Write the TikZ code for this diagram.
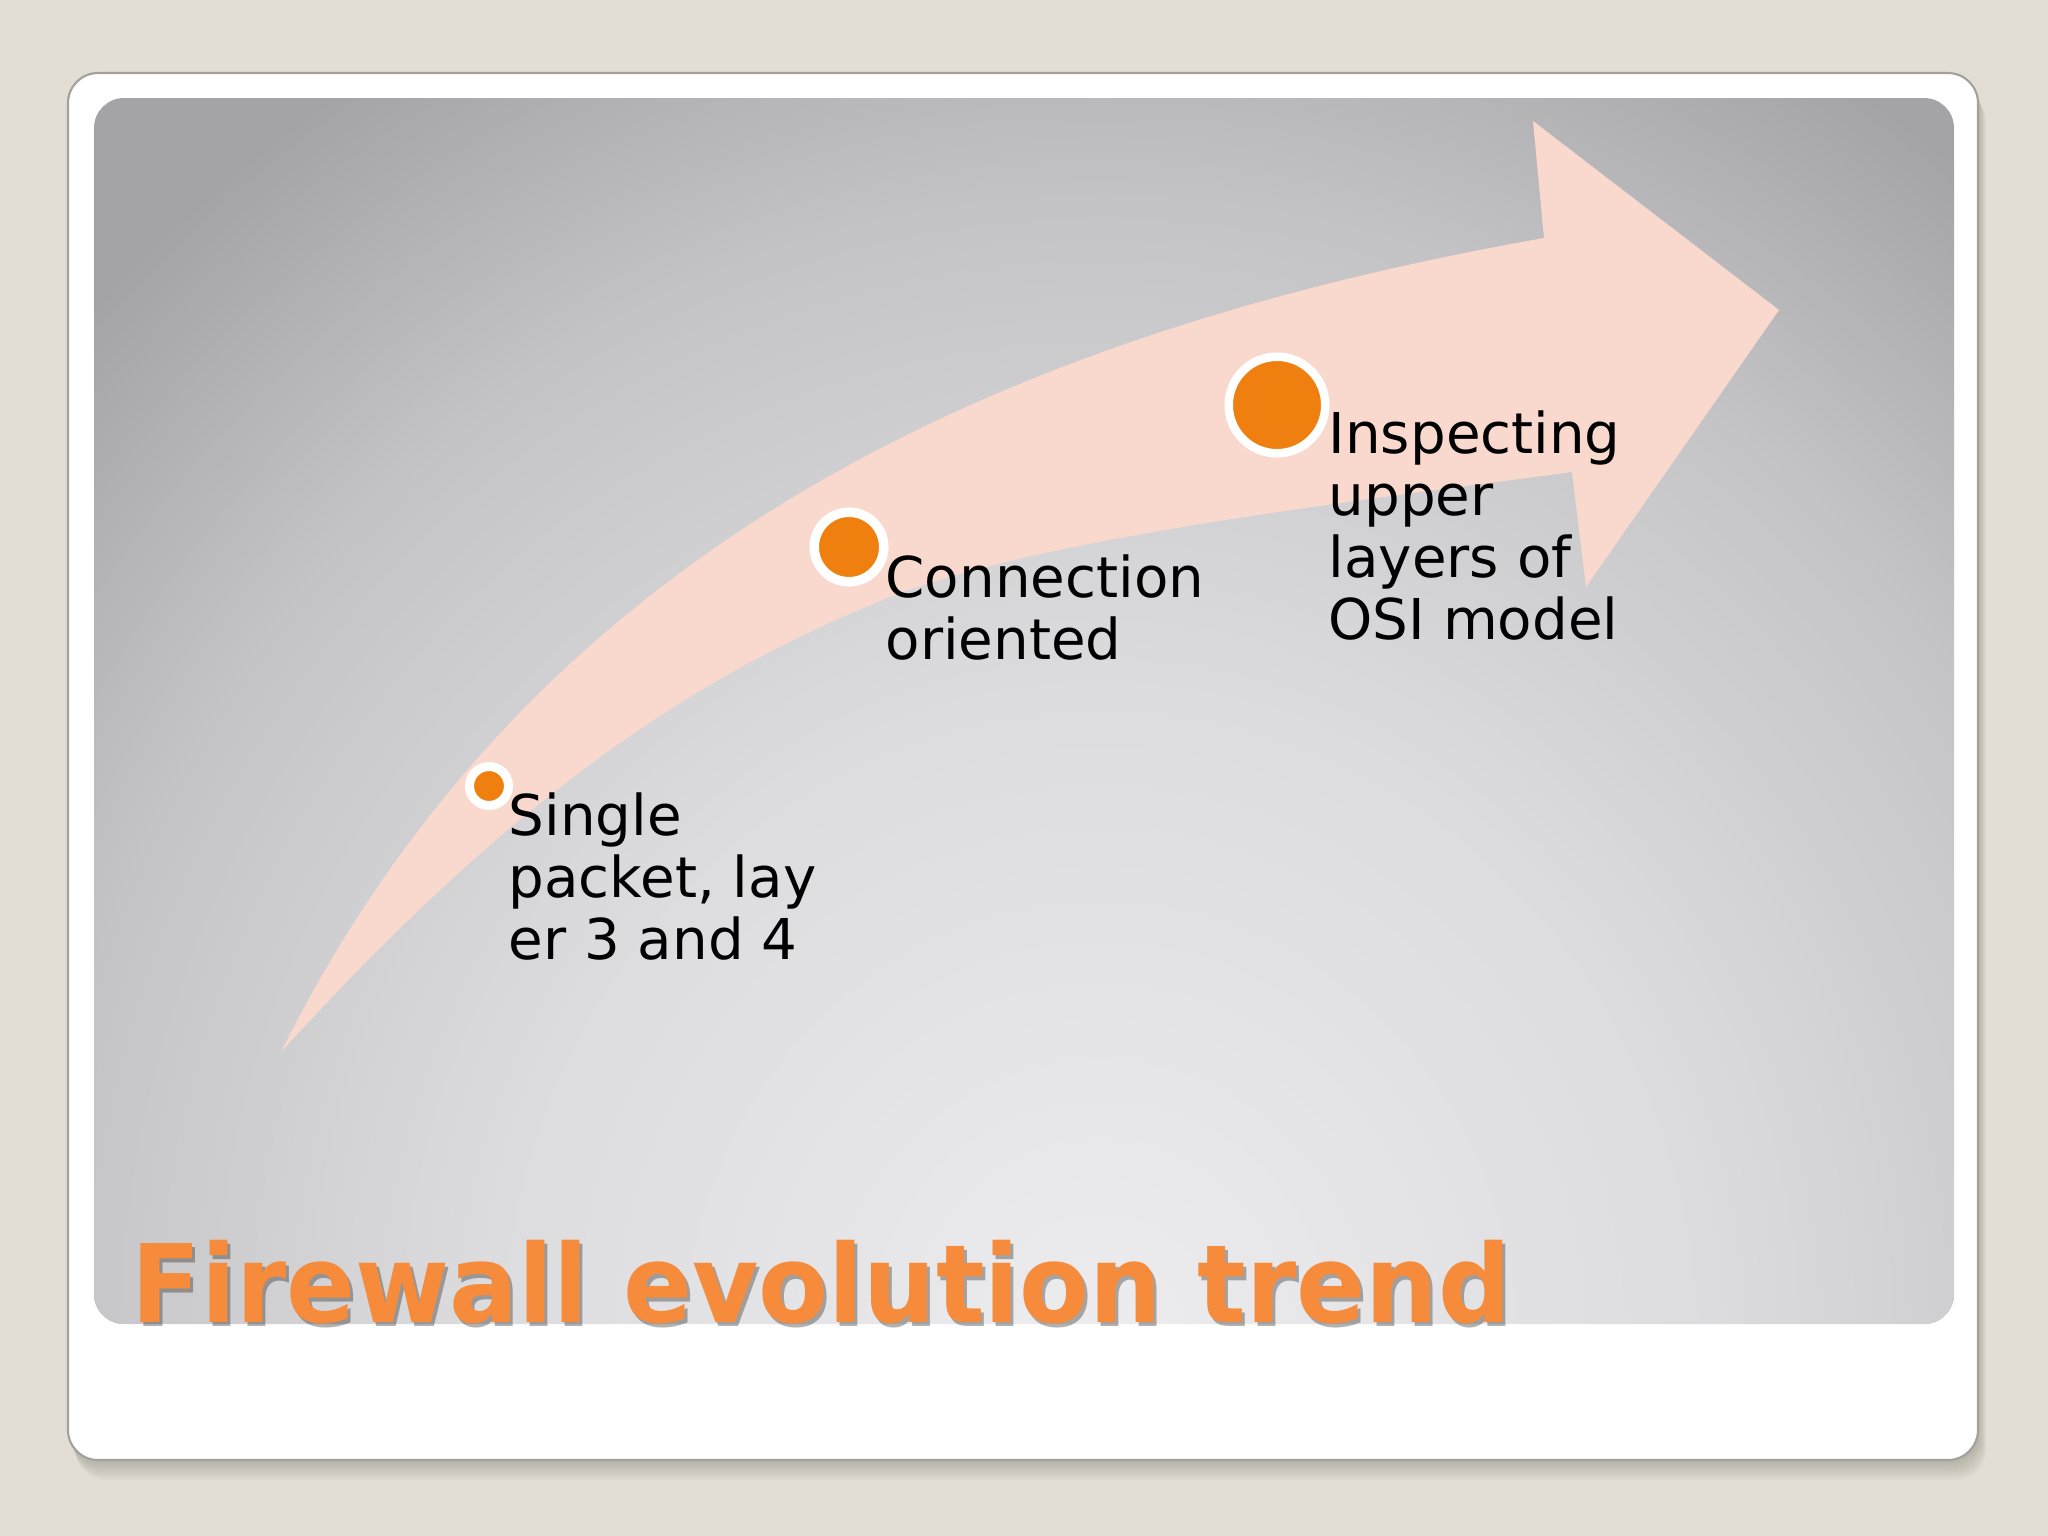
\documentclass[tikz,border=0pt]{standalone}
\usepackage{graphicx}
\usepackage{fontspec}
\setmainfont{DejaVu Sans}
\definecolor{bgbeige}{HTML}{E2DED3}
\definecolor{cardborder}{HTML}{A3A19B}
\definecolor{shadowcol}{HTML}{8E8B82}
\definecolor{arrowpink}{HTML}{F9D8CE}
\definecolor{dotorange}{HTML}{EF800F}
\definecolor{titleorange}{HTML}{F58B3B}
\definecolor{pA}{HTML}{EDEDEF}
\definecolor{pB}{HTML}{DCDCDE}
\definecolor{pC}{HTML}{C4C4C6}
\definecolor{pD}{HTML}{A4A4A7}
\pgfdeclareradialshading{panelshade}{\pgfpoint{0bp}{0bp}}{color(0bp)=(pA); color(11bp)=(pB); color(19bp)=(pC); color(25bp)=(pD); color(50bp)=(pD)}
\tikzset{
  dotmark/.style={circle, fill=dotorange, draw=white, inner sep=0pt},
  lbl/.style={anchor=base west, inner sep=0pt, text=black, font=\fontsize{16pt}{17.65pt}\selectfont},
  titletext/.style={anchor=base west, inner sep=0pt, font=\fontsize{30.8pt}{36pt}\selectfont\bfseries}
}
\begin{document}
\begin{tikzpicture}[x=0.01cm,y=-0.01cm]
\useasboundingbox (0,0) rectangle (2048,1536);
\fill[bgbeige] (0,0) rectangle (2048,1536);
% card shadow
\foreach \k in {2,4,...,20}{
  \fill[shadowcol, opacity=0.06, rounded corners=0.3cm] (68+0.4*\k,73+\k) rectangle (1978+0.4*\k,1460+\k);
}
% white card
\fill[white, draw=cardborder, line width=0.6pt, rounded corners=0.3cm] (68,73) rectangle (1978,1460);
% gray panel
\begin{scope}
  \clip[rounded corners=0.3cm] (94,98) rectangle (1954,1324);
  \fill[pD] (94,98) rectangle (1954,1324);
  \shade[shading=panelshade] (1100,1350) ellipse (1400 and 1500);
  % arrow
  \coordinate (tail) at (281,1052);
  \coordinate (notchU) at (1544,238);
  \coordinate (barbU) at (1533,121);
  \coordinate (tip) at (1779,310);
  \coordinate (barbL) at (1586,587);
  \coordinate (notchL) at (1572,472);
  \coordinate (bend) at (890,597);
  \fill[arrowpink]
    (tail) .. controls (530,552) and (990,336) .. (notchU)
    -- (barbU) -- (tip) -- (barbL) -- (notchL)
    .. controls (1372,499) and (1040,537) .. (bend)
    .. controls (690,677) and (511,799) .. (tail)
    -- cycle;
\end{scope}
% markers
\node[dotmark, minimum size=0.39cm, line width=0.09cm] (c1) at (489,786) {};
\node[dotmark, minimum size=0.695cm, line width=0.095cm] (c2) at (849,547) {};
\node[dotmark, minimum size=0.965cm, line width=0.085cm] (c3) at (1277,405) {};
% labels
\node[lbl] (t1) at (508,835) {\vtop{\hbox{Single}\hbox{packet, lay}\hbox{er 3 and 4}}};
\node[lbl] (t2) at (885,597) {\vtop{\hbox{Connection}\hbox{oriented}}};
\node[lbl] (t3) at (1328,453) {\vtop{\hbox{Inspecting}\hbox{upper}\hbox{layers of}\hbox{OSI model}}};
% title
\node[titletext, text=black, opacity=0.3] (titleshadow) at (134,1326) {\scalebox{0.94}[1]{Firewall evolution trend}};
\node[titletext, text=titleorange] (title) at (131,1322) {\scalebox{0.94}[1]{Firewall evolution trend}};
\end{tikzpicture}
\end{document}
